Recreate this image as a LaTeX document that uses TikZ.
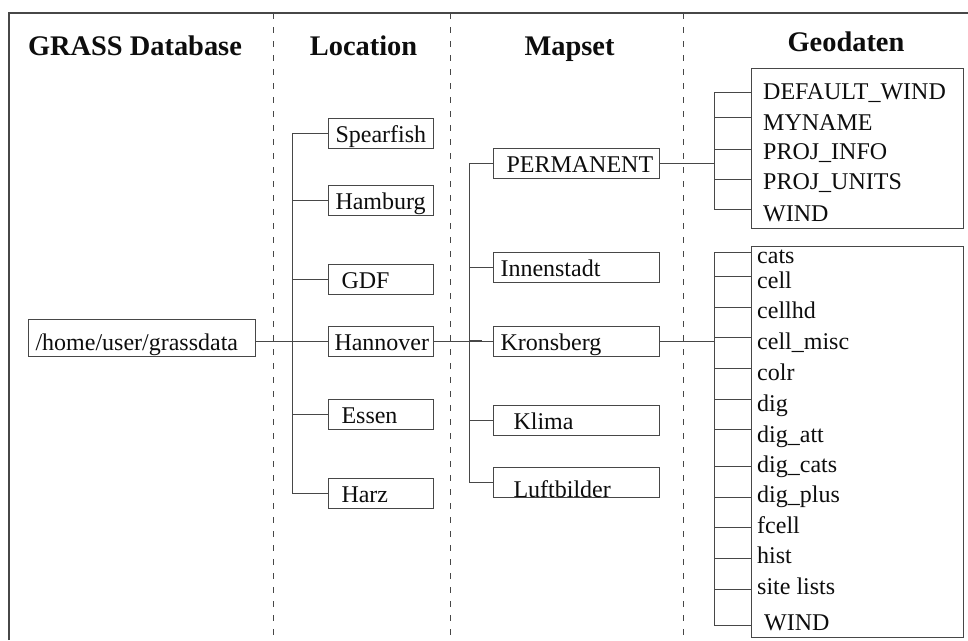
\documentclass[tikz,border=0pt]{standalone}
\usepackage{fontspec}
\setmainfont{Liberation Serif}
\definecolor{lc}{gray}{0.28}
\definecolor{tc}{gray}{0.05}
\newcommand{\bxl}[3]{\makebox[#1][l]{\hspace{#2}#3}}
\begin{document}
\begin{tikzpicture}[x=1pt,y=-1pt,
  every node/.style={text=tc,font=\fontsize{24}{28}\selectfont},
  ttl/.style={font=\fontsize{28.4}{34}\selectfont\bfseries,anchor=base,inner sep=0pt},
  bx/.style={draw=lc,line width=1pt,rectangle,inner sep=0pt,minimum height=30pt,text height=20pt,text depth=2pt,anchor=west},
  item/.style={anchor=base west,inner sep=0pt},
  ln/.style={draw=lc,line width=1pt},
  sep/.style={draw=lc,line width=0.9pt,dash pattern=on 6pt off 8pt},
  frame/.style={draw=lc,line width=1.4pt}]
\useasboundingbox (0,0) rectangle (968,640);
% frame
\draw[frame] (9,640) -- (9,13) -- (968,13);
% column separators
\draw[sep] (273,13) -- (273,640);
\draw[sep] (450,13) -- (450,640);
\draw[sep] (683,13) -- (683,640);
% titles
\node[ttl] (tdb) at (135,55) {GRASS Database};
\node[ttl] (tloc) at (363.5,55) {Location};
\node[ttl] (tmap) at (569.5,55) {Mapset};
\node[ttl] (tgeo) at (846,51) {Geodaten};
% database
\node[bx,minimum height=37pt] (home) at (28,337.5) {\bxl{227pt}{7pt}{\raisebox{-3.5pt}{/home/user/grassdata}}};
% locations
\node[bx] (spear) at (328,133) {\bxl{105pt}{7pt}{Spearfish}};
\node[bx] (hamb) at (328,200) {\bxl{105pt}{7pt}{Hamburg}};
\node[bx] (gdf) at (328,279) {\bxl{105pt}{13pt}{GDF}};
\node[bx] (hann) at (328,341) {\bxl{105pt}{6pt}{Hannover}};
\node[bx] (essen) at (328,414) {\bxl{105pt}{13pt}{Essen}};
\node[bx] (harz) at (328,493.5) {\bxl{105pt}{13pt}{Harz}};
% mapsets
\node[bx] (perm) at (493,163) {\bxl{166pt}{13pt}{PERMANENT}};
\node[bx] (innen) at (493,267) {\bxl{166pt}{7pt}{Innenstadt}};
\node[bx] (kron) at (493,341) {\bxl{166pt}{7pt}{Kronsberg}};
\node[bx] (klima) at (493,420.5) {\bxl{166pt}{20pt}{Klima}};
\node[bx] (luft) at (493,482) {\bxl{166pt}{20pt}{\raisebox{-6pt}{Luftbilder}}};
% geodaten boxes
\node[draw=lc,line width=1pt,rectangle,inner sep=0pt,minimum width=212pt,minimum height=160pt,anchor=north west] (g1) at (751,68) {};
\node[draw=lc,line width=1pt,rectangle,inner sep=0pt,minimum width=212pt,minimum height=391pt,anchor=north west] (g2) at (751,246) {};
% geodaten items, box 1
\node[item] (a1) at (763,99) {DEFAULT\_WIND};
\node[item] (a2) at (763,130) {MYNAME};
\node[item] (a3) at (763,159) {PROJ\_INFO};
\node[item] (a4) at (763,189) {PROJ\_UNITS};
\node[item] (a5) at (763,221) {WIND};
% geodaten items, box 2
\node[item] (b1) at (757,263) {cats};
\node[item] (b2) at (757,288) {cell};
\node[item] (b3) at (757,318) {cellhd};
\node[item] (b4) at (757,349) {cell\_misc};
\node[item] (b5) at (757,380) {colr};
\node[item] (b6) at (757,411) {dig};
\node[item] (b7) at (757,442) {dig\_att};
\node[item] (b8) at (757,472) {dig\_cats};
\node[item] (b9) at (757,502) {dig\_plus};
\node[item] (b10) at (757,533) {fcell};
\node[item] (b11) at (757,563) {hist};
\node[item] (b12) at (757,594) {site lists};
\node[item] (b13) at (764,630) {WIND};
% trunk coordinates
\coordinate (lt) at (292,0);
\coordinate (mt) at (469,0);
\coordinate (gt) at (714,0);
% database -> location
\draw[ln] (home.east |- hann.west) -- (hann.west);
% location tree
\draw[ln] (spear.west -| lt) -- (harz.west -| lt);
\foreach \n in {spear,hamb,gdf,hann,essen,harz} \draw[ln] (\n.west) -- (\n.west -| lt);
% Hannover -> mapsets
\draw[ln] (hann.east) -- (kron.west);
\draw[draw=lc,line width=2.2pt] (kron.west -| mt) -- ++(13,0);
\draw[ln] (perm.west -| mt) -- (luft.west -| mt);
\foreach \n in {perm,innen,kron,klima,luft} \draw[ln] (\n.west) -- (\n.west -| mt);
% PERMANENT -> geodaten
\draw[ln] (perm.east) -- (perm.east -| gt);
\draw[ln] (714,92) -- (714,209);
\foreach \y in {92,117,149,179,209} \draw[ln] (714,\y) -- (g1.west |- 0,\y);
% Kronsberg -> geodaten
\draw[ln] (kron.east) -- (kron.east -| gt);
\draw[ln] (714,252) -- (714,625);
\foreach \y in {252,276,307,337,368,399,429,466,497,527,558,589,625} \draw[ln] (714,\y) -- (g2.west |- 0,\y);
\end{tikzpicture}
\end{document}
